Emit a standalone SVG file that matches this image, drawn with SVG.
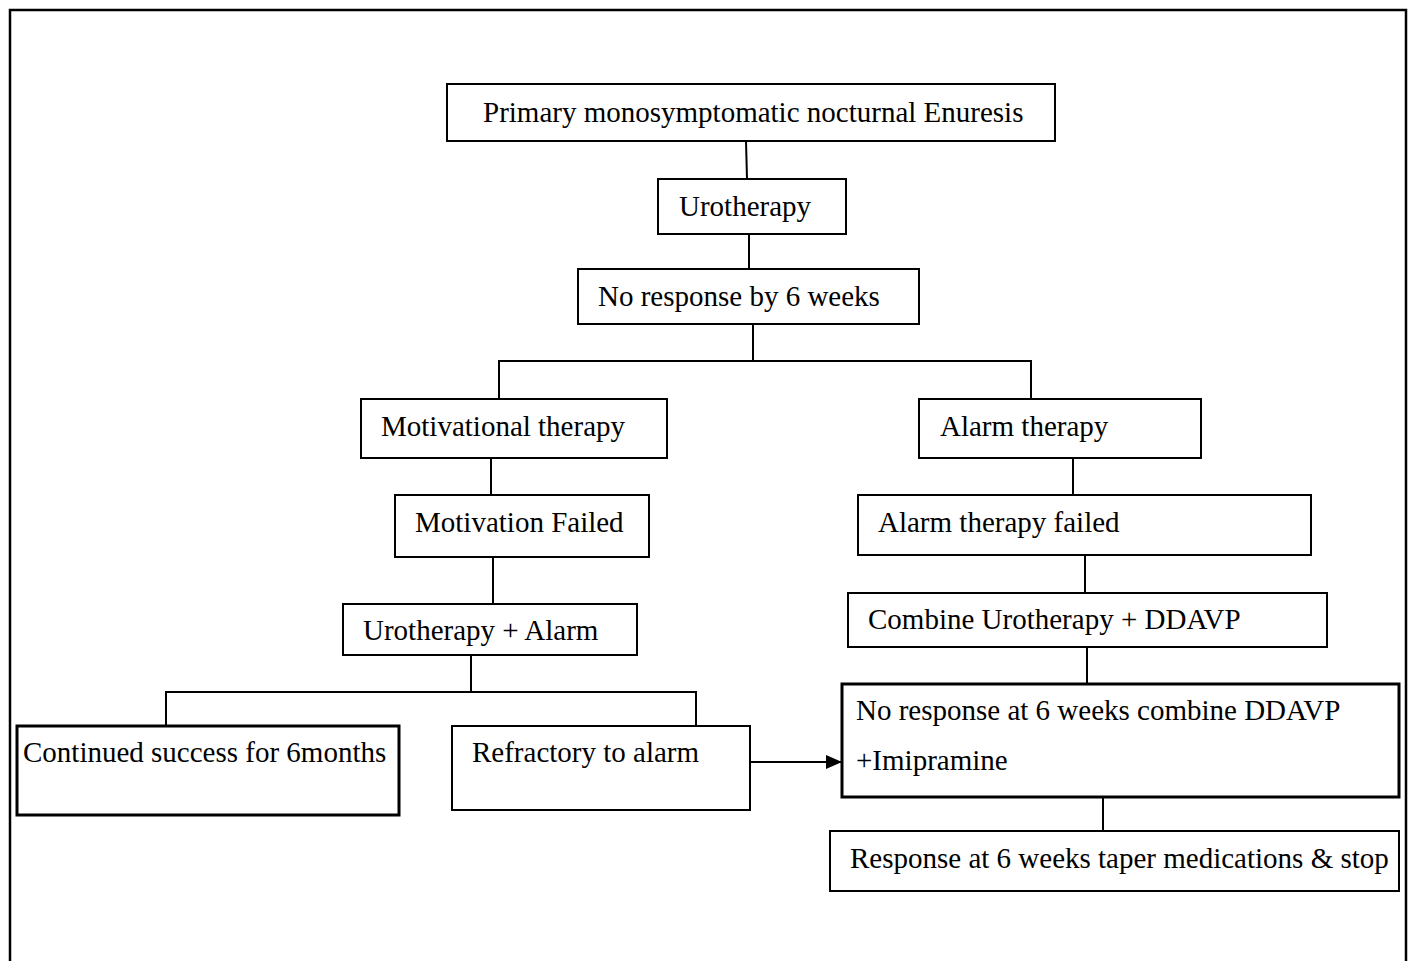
<svg xmlns="http://www.w3.org/2000/svg" width="1410" height="961" viewBox="0 0 1410 961">
  <style>
    .box { fill: #fff; stroke: #000; stroke-width: 2; }
    .thick { stroke-width: 3; }
    .wire { fill: none; stroke: #000; stroke-width: 2; }
  </style>
  <defs>
    <marker id="arrow" viewBox="0 0 16 14" refX="16" refY="7" markerWidth="16" markerHeight="14" markerUnits="userSpaceOnUse" orient="auto">
      <path d="M0,0 L16,7 L0,14 Z" fill="#000"/>
    </marker>
  </defs>
  <rect width="1410" height="961" fill="#fff"/>
  <!-- outer frame -->
  <path d="M10,961 V10 H1406 V961" fill="none" stroke="#000" stroke-width="2.5"/>

  <g id="connectors">
    <path class="wire" d="M746,141 L747,179"/>
    <path class="wire" d="M749,234 V269"/>
    <path class="wire" d="M753,324 V361 M499,399 V361 H1031 V399"/>
    <path class="wire" d="M491,458 V495"/>
    <path class="wire" d="M1073,458 V495"/>
    <path class="wire" d="M493,557 V604"/>
    <path class="wire" d="M1085,555 V593"/>
    <path class="wire" d="M1087,647 V684"/>
    <path class="wire" d="M1103,795 V831"/>
    <path class="wire" d="M471,655 V692 M166,726 V692 H696 V726"/>
    <path class="wire" d="M750,762 H842" marker-end="url(#arrow)"/>
  </g>

  <g id="nodes" font-family="'Liberation Serif', 'Times New Roman', serif" font-size="29" fill="#000">
    <g id="n-primary">
      <rect class="box" x="447" y="84" width="608" height="57"/>
      <text x="483" y="121.5">Primary monosymptomatic nocturnal Enuresis</text>
    </g>
    <g id="n-urotherapy">
      <rect class="box" x="658" y="179" width="188" height="55"/>
      <text x="679" y="216">Urotherapy</text>
    </g>
    <g id="n-noresponse">
      <rect class="box" x="578" y="269" width="341" height="55"/>
      <text x="598" y="306">No response by 6 weeks</text>
    </g>
    <g id="n-motivational">
      <rect class="box" x="361" y="399" width="306" height="59"/>
      <text x="381" y="436">Motivational therapy</text>
    </g>
    <g id="n-alarm">
      <rect class="box" x="919" y="399" width="282" height="59"/>
      <text x="940" y="436">Alarm therapy</text>
    </g>
    <g id="n-motivation-failed">
      <rect class="box" x="395" y="495" width="254" height="62"/>
      <text x="415" y="532">Motivation Failed</text>
    </g>
    <g id="n-alarm-failed">
      <rect class="box" x="858" y="495" width="453" height="60"/>
      <text x="878" y="532">Alarm therapy failed</text>
    </g>
    <g id="n-uro-alarm">
      <rect class="box" x="343" y="604" width="294" height="51"/>
      <text x="363" y="640">Urotherapy + Alarm</text>
    </g>
    <g id="n-combine">
      <rect class="box" x="848" y="593" width="479" height="54"/>
      <text x="868" y="629">Combine Urotherapy + DDAVP</text>
    </g>
    <g id="n-imipramine">
      <rect class="box thick" x="842" y="684" width="557" height="113"/>
      <text x="856" y="720">No response at 6 weeks combine DDAVP</text>
      <text x="856" y="770">+Imipramine</text>
    </g>
    <g id="n-taper">
      <rect class="box" x="830" y="831" width="569" height="60"/>
      <text x="850" y="868">Response at 6 weeks taper medications &amp; stop</text>
    </g>
    <g id="n-success">
      <rect class="box thick" x="17" y="726" width="382" height="89"/>
      <text x="23" y="762">Continued success for 6months</text>
    </g>
    <g id="n-refractory">
      <rect class="box" x="452" y="726" width="298" height="84"/>
      <text x="472" y="762">Refractory to alarm</text>
    </g>
  </g>
</svg>
